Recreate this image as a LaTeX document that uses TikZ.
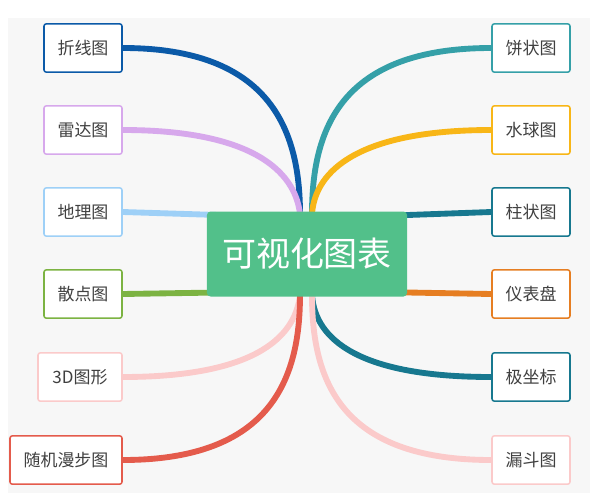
\documentclass[tikz,border=0pt]{standalone}
\usepackage{fontspec}
\setmainfont{Noto Sans CJK SC}
\usetikzlibrary{positioning,backgrounds}
\definecolor{bgc}{HTML}{F7F7F7}
\definecolor{cgreen}{HTML}{52C08A}
\definecolor{c1}{HTML}{0B5AA8}
\definecolor{c2}{HTML}{D7A8EC}
\definecolor{c3}{HTML}{9ED0F7}
\definecolor{c4}{HTML}{7CB342}
\definecolor{c5}{HTML}{FBCACA}
\definecolor{c6}{HTML}{E45B4C}
\definecolor{c7}{HTML}{35A0A8}
\definecolor{c8}{HTML}{F8B617}
\definecolor{c9}{HTML}{17788F}
\definecolor{c10}{HTML}{E67E22}
\tikzset{leaf/.style={draw, fill=white, rounded corners=2pt, line width=1.3pt, minimum height=1.45cm, inner xsep=6pt, font=\fontsize{14.5}{14.5}\selectfont, text=black!75}}
\tikzstyle{br}=[line width=5pt]
\begin{document}
\begin{tikzpicture}[x=0.03cm, y=-0.03cm]
\useasboundingbox (0,0) rectangle (614,503);
% center
\coordinate (lt) at (300,214);
\coordinate (lb) at (300,295);
\coordinate (rt) at (312,214);
\coordinate (rb) at (312,295);
% left leaves
\node[leaf, draw=c1, minimum width=2.34cm] (zx) at (83,48) {折线图};
\node[leaf, draw=c2, minimum width=2.34cm] (ld) at (83,130) {雷达图};
\node[leaf, draw=c3, minimum width=2.34cm] (dl) at (83,212) {地理图};
\node[leaf, draw=c4, minimum width=2.34cm] (sd) at (83,294) {散点图};
\node[leaf, draw=c5, minimum width=2.52cm] (sd3) at (80,377) {3D图形};
\node[leaf, draw=c6, minimum width=3.36cm] (sj) at (66,460) {随机漫步图};
% right leaves
\node[leaf, draw=c7, minimum width=2.34cm] (bz) at (531,48) {饼状图};
\node[leaf, draw=c8, minimum width=2.34cm] (sq) at (531,130) {水球图};
\node[leaf, draw=c9, minimum width=2.34cm] (zz) at (531,212) {柱状图};
\node[leaf, draw=c10, minimum width=2.34cm] (yb) at (531,294) {仪表盘};
\node[leaf, draw=c9, minimum width=2.34cm] (jz) at (531,377) {极坐标};
\node[leaf, draw=c5, minimum width=2.34cm] (ld2) at (531,460) {漏斗图};
% branches
\begin{scope}[on background layer]
\fill[bgc] (8,18) rectangle (590,493);
\draw[br, c1] (zx.east) .. controls (270,48) and (300,130) .. (lt);
\draw[br, c2] (ld.east) .. controls (250,130) and (295,170) .. (lt);
\draw[br, c3] (dl.east) -- (250,216);
\draw[br, c4] (sd.east) -- (250,292);
\draw[br, c5] (sd3.east) .. controls (250,377) and (295,340) .. (lb);
\draw[br, c6] (sj.east) .. controls (270,460) and (300,380) .. (lb);
\draw[br, c7] (bz.west) .. controls (340,48) and (312,130) .. (rt);
\draw[br, c8] (sq.west) .. controls (360,130) and (315,170) .. (rt);
\draw[br, c9] (zz.west) -- (380,216);
\draw[br, c10] (yb.west) -- (380,292);
\draw[br, c9] (jz.west) .. controls (360,377) and (315,340) .. (rb);
\draw[br, c5] (ld2.west) .. controls (340,460) and (312,380) .. (rb);
\end{scope}
\node[fill=cgreen, rounded corners=3pt, minimum width=6cm, minimum height=2.55cm, text=white, font=\fontsize{29}{29}\selectfont] (hub) at (307,254) {可视化图表};
\end{tikzpicture}
\end{document}
